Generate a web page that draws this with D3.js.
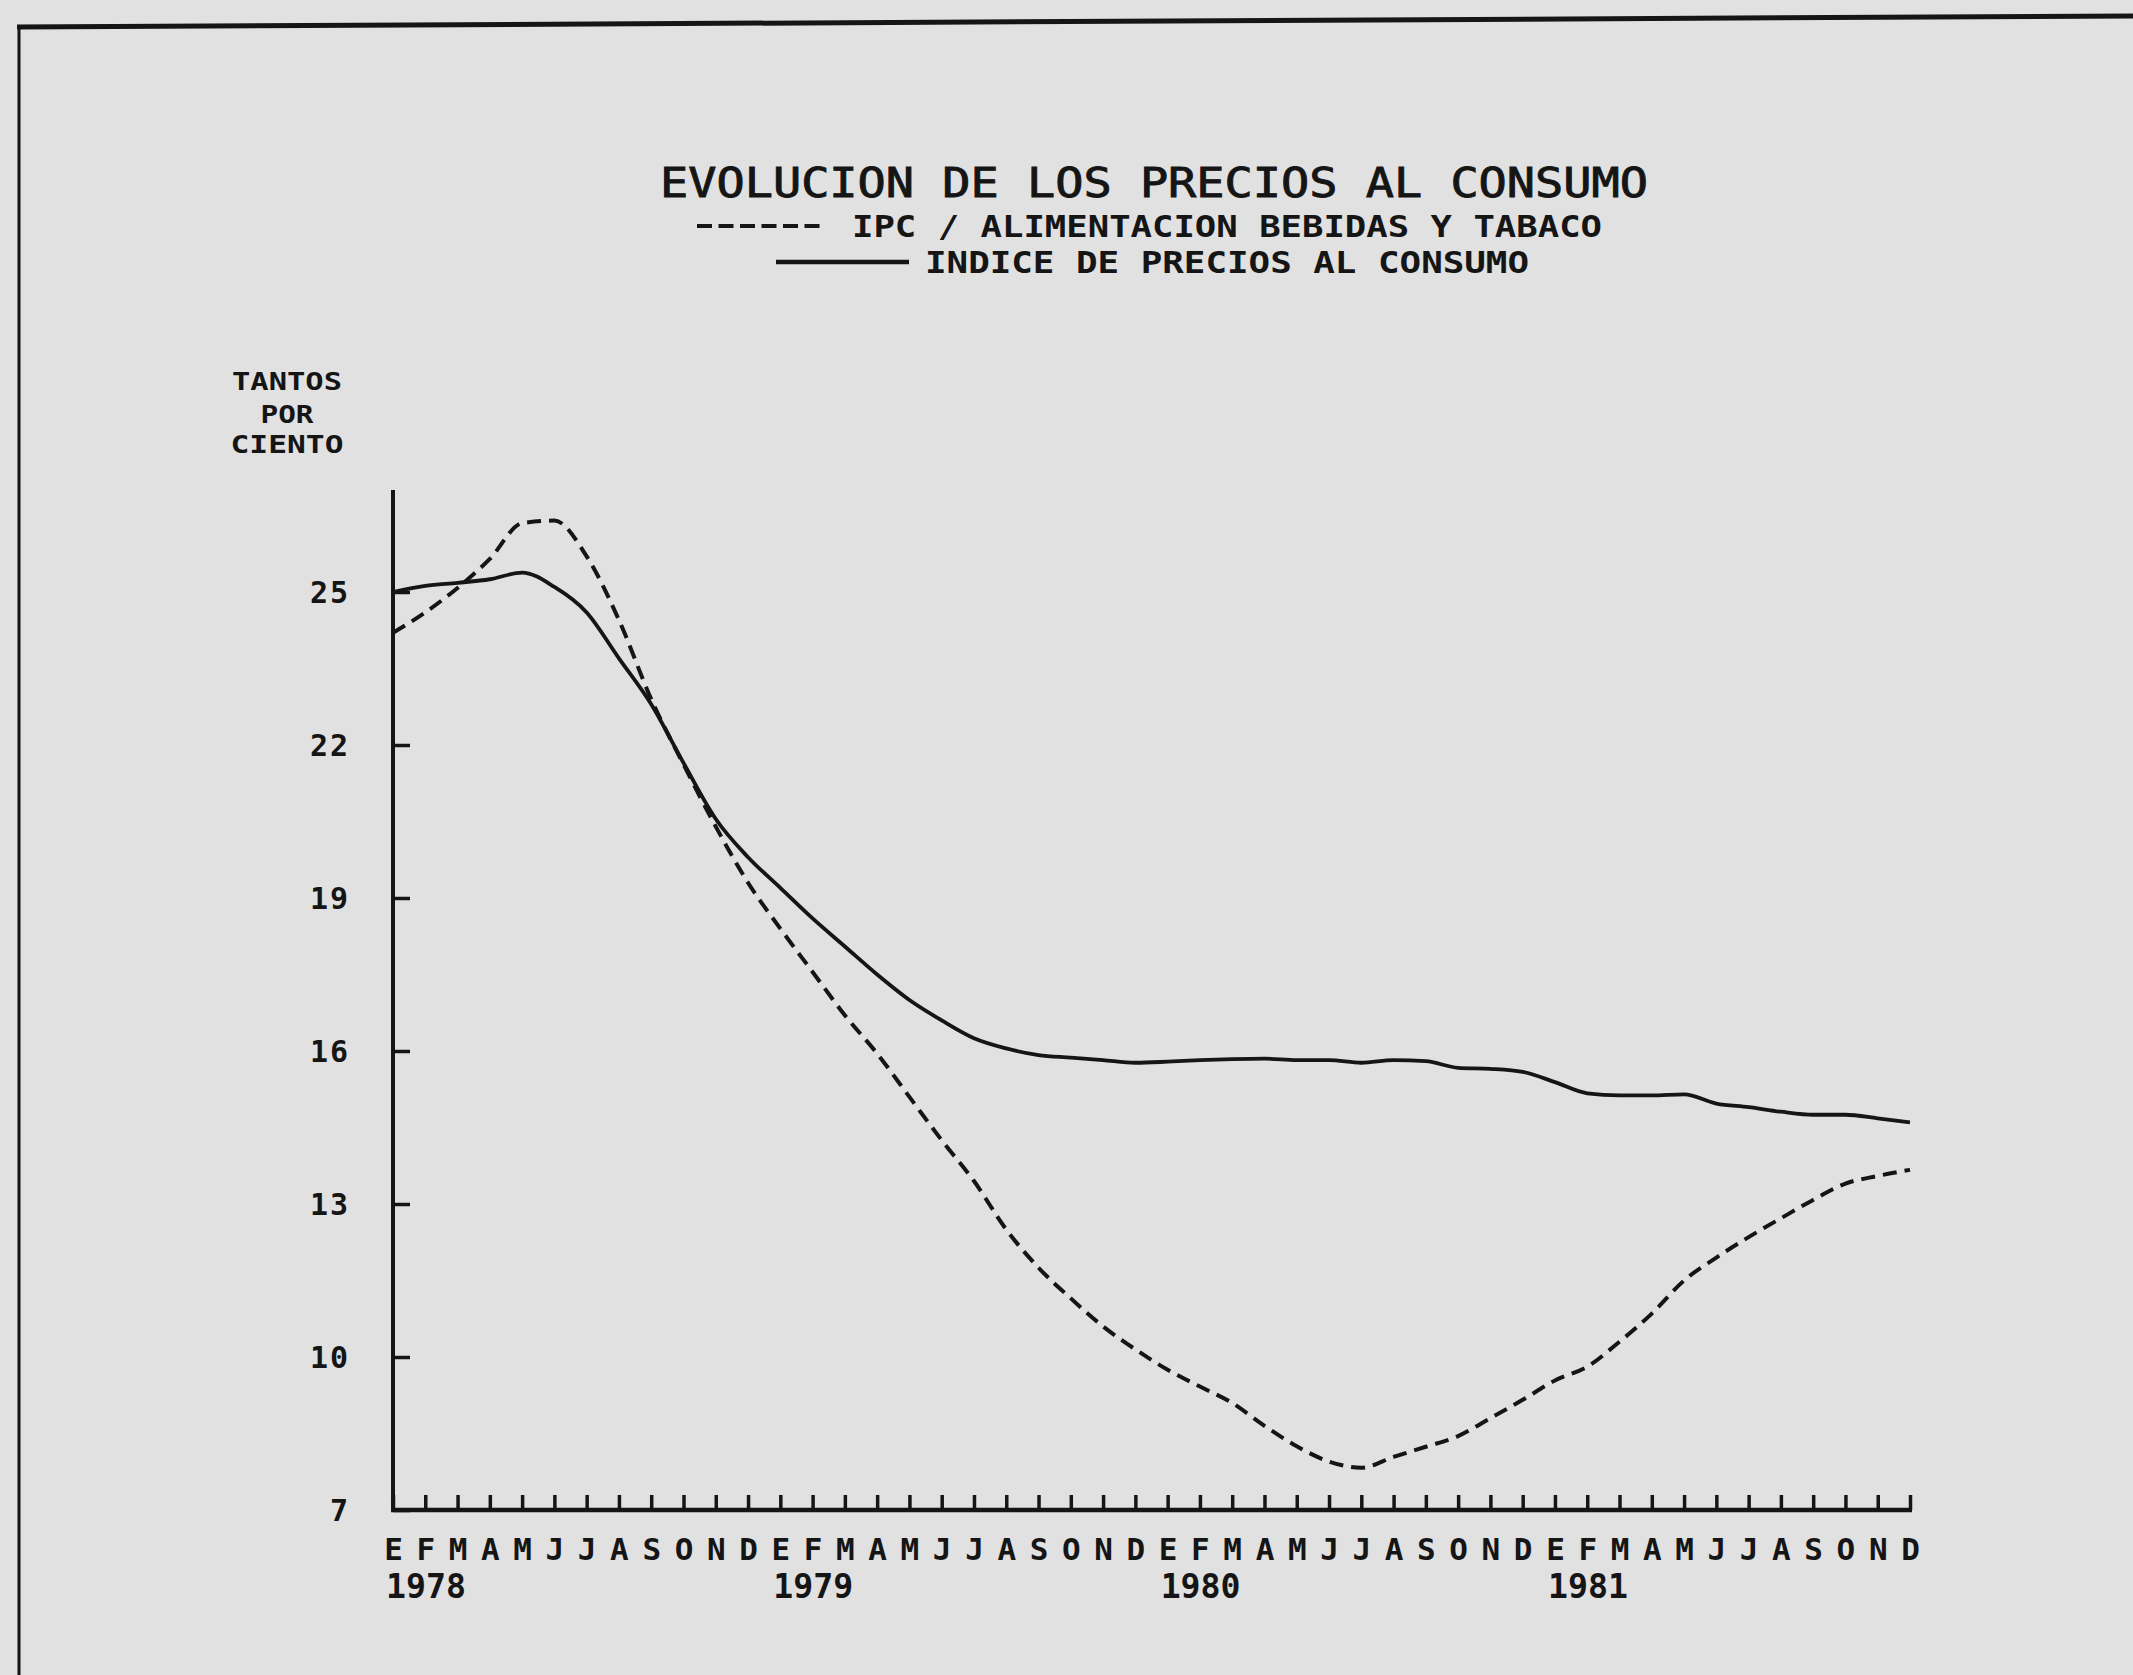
<!DOCTYPE html>
<html>
<head>
<meta charset="utf-8">
<script src="https://cdn.jsdelivr.net/npm/d3@7"></script>
<style>
  html, body { margin: 0; padding: 0; background: #e1e1e1; }
  svg { display: block; }
  text { fill: #151515; }
</style>
</head>
<body>
<svg id="chart" width="2133" height="1675"></svg>
<script>
// ---- data ----
const monthLetters = ["E","F","M","A","M","J","J","A","S","O","N","D"];
const years = ["1978","1979","1980","1981"];
const yTickValues = [7, 10, 13, 16, 19, 22, 25];

// Indice de precios al consumo (solid), monthly Jan 1978 - Dec 1981
const ipcGeneral = [
  25.0, 25.12, 25.18, 25.25, 25.38, 25.1, 24.6, 23.7, 22.8, 21.65, 20.55, 19.8,
  19.2, 18.6, 18.05, 17.5, 17.0, 16.6, 16.25, 16.05, 15.92, 15.87, 15.82, 15.77,
  15.79, 15.82, 15.84, 15.85, 15.82, 15.82, 15.77, 15.82, 15.8, 15.67, 15.65, 15.59,
  15.39, 15.17, 15.13, 15.13, 15.15, 14.97, 14.9, 14.81, 14.75, 14.75, 14.68, 14.6
];
// IPC / Alimentacion bebidas y tabaco (dashed)
const ipcAlimentacion = [
  24.2, 24.6, 25.08, 25.65, 26.35, 26.4, 25.7, 24.45, 22.9, 21.62, 20.4, 19.3,
  18.4, 17.55, 16.7, 15.95, 15.1, 14.25, 13.45, 12.5, 11.75, 11.15, 10.6, 10.15,
  9.75, 9.42, 9.1, 8.65, 8.25, 7.95, 7.83, 8.04, 8.24, 8.45, 8.8, 9.16,
  9.54, 9.81, 10.3, 10.85, 11.5, 11.95, 12.35, 12.72, 13.08, 13.4, 13.55, 13.67
];

const titleText = "EVOLUCION DE LOS PRECIOS AL CONSUMO";
const legendDashedText = "IPC / ALIMENTACION BEBIDAS Y TABACO";
const legendSolidText = "INDICE DE PRECIOS AL CONSUMO";
const yAxisTitle = ["TANTOS", "POR", "CIENTO"];

// ---- drawing ----
const ink = "#151515";
const mono = "'DejaVu Sans Mono', 'Liberation Mono', monospace";
const svg = d3.select("#chart");

const nMonths = ipcGeneral.length;
const x = d3.scaleLinear().domain([0, nMonths - 1]).range([393, 1910]);
const y = d3.scaleLinear().domain([7, 27]).range([1510, 490]);

// newspaper frame
svg.append("line").attr("x1", 17).attr("y1", 27).attr("x2", 2133).attr("y2", 16)
  .attr("stroke", ink).attr("stroke-width", 5);
svg.append("line").attr("x1", 19).attr("y1", 25).attr("x2", 19).attr("y2", 1675)
  .attr("stroke", ink).attr("stroke-width", 3);

// title & legend
svg.append("text").attr("x", 660).attr("y", 197)
  .attr("font-family", mono).attr("font-size", 40)
  .attr("stroke", ink).attr("stroke-width", 0.9)
  .attr("textLength", 988).attr("lengthAdjust", "spacingAndGlyphs")
  .text(titleText);

svg.append("line").attr("x1", 697).attr("x2", 826).attr("y1", 226).attr("y2", 226)
  .attr("stroke", ink).attr("stroke-width", 4).attr("stroke-dasharray", "15,6.5");
svg.append("text").attr("x", 852).attr("y", 237)
  .attr("font-family", mono).attr("font-size", 30).attr("font-weight", "bold")
  .attr("textLength", 750).attr("lengthAdjust", "spacingAndGlyphs")
  .text(legendDashedText);

svg.append("line").attr("x1", 776).attr("x2", 909).attr("y1", 262).attr("y2", 262)
  .attr("stroke", ink).attr("stroke-width", 4.5);
svg.append("text").attr("x", 925).attr("y", 273)
  .attr("font-family", mono).attr("font-size", 31).attr("font-weight", "bold")
  .attr("textLength", 604).attr("lengthAdjust", "spacingAndGlyphs")
  .text(legendSolidText);

// y-axis title
const yTitleBaselines = [390, 423, 453];
const yTitleWidths = [110, 53, 113];
yAxisTitle.forEach((t, i) => {
  svg.append("text").attr("x", 287).attr("y", yTitleBaselines[i])
    .attr("text-anchor", "middle")
    .attr("font-family", mono).attr("font-size", 25).attr("font-weight", "bold")
    .attr("textLength", yTitleWidths[i]).attr("lengthAdjust", "spacingAndGlyphs")
    .text(t);
});

// y axis
const yAxis = d3.axisLeft(y).tickValues(yTickValues).tickFormat(d3.format("d"))
  .tickSizeInner(-17).tickSizeOuter(0).tickPadding(43);
const gy = svg.append("g").attr("transform", "translate(393,0)").call(yAxis);
gy.select(".domain").remove();
gy.selectAll(".tick line").attr("stroke", ink).attr("stroke-width", 3.5);
gy.selectAll(".tick text").attr("font-family", mono).attr("font-size", 30)
  .attr("font-weight", "bold").attr("fill", ink).attr("dy", "0.36em")
  .attr("letter-spacing", 2);
svg.append("line").attr("x1", 393).attr("x2", 393).attr("y1", y(27)).attr("y2", y(7) + 2)
  .attr("stroke", ink).attr("stroke-width", 4);

// x axis
const xAxis = d3.axisBottom(x).tickValues(d3.range(nMonths))
  .tickFormat(i => monthLetters[i % 12])
  .tickSizeInner(-15).tickSizeOuter(0).tickPadding(28);
const gx = svg.append("g").attr("transform", `translate(0,${y(7)})`).call(xAxis);
gx.select(".domain").remove();
gx.selectAll(".tick line").attr("stroke", ink).attr("stroke-width", 3.5);
gx.selectAll(".tick text").attr("font-family", mono).attr("font-size", 31)
  .attr("font-weight", "bold").attr("fill", ink);
svg.append("line").attr("x1", 391).attr("x2", x(nMonths - 1) + 2).attr("y1", y(7)).attr("y2", y(7))
  .attr("stroke", ink).attr("stroke-width", 4.5);

// year labels
svg.append("g").selectAll("text").data(years).join("text")
  .attr("x", (d, k) => x(k * 12) - 7).attr("y", 1598)
  .attr("font-family", mono).attr("font-size", 34).attr("font-weight", "bold")
  .attr("textLength", 80).attr("lengthAdjust", "spacingAndGlyphs")
  .text(d => d);

// series
const line = d3.line().x((d, i) => x(i)).y(d => y(d)).curve(d3.curveMonotoneX);
svg.append("path").datum(ipcAlimentacion).attr("d", line)
  .attr("fill", "none").attr("stroke", ink).attr("stroke-width", 4)
  .attr("stroke-dasharray", "14,8");
svg.append("path").datum(ipcGeneral).attr("d", line)
  .attr("fill", "none").attr("stroke", ink).attr("stroke-width", 3.8)
  .attr("stroke-linejoin", "round");
</script>
</body>
</html>
